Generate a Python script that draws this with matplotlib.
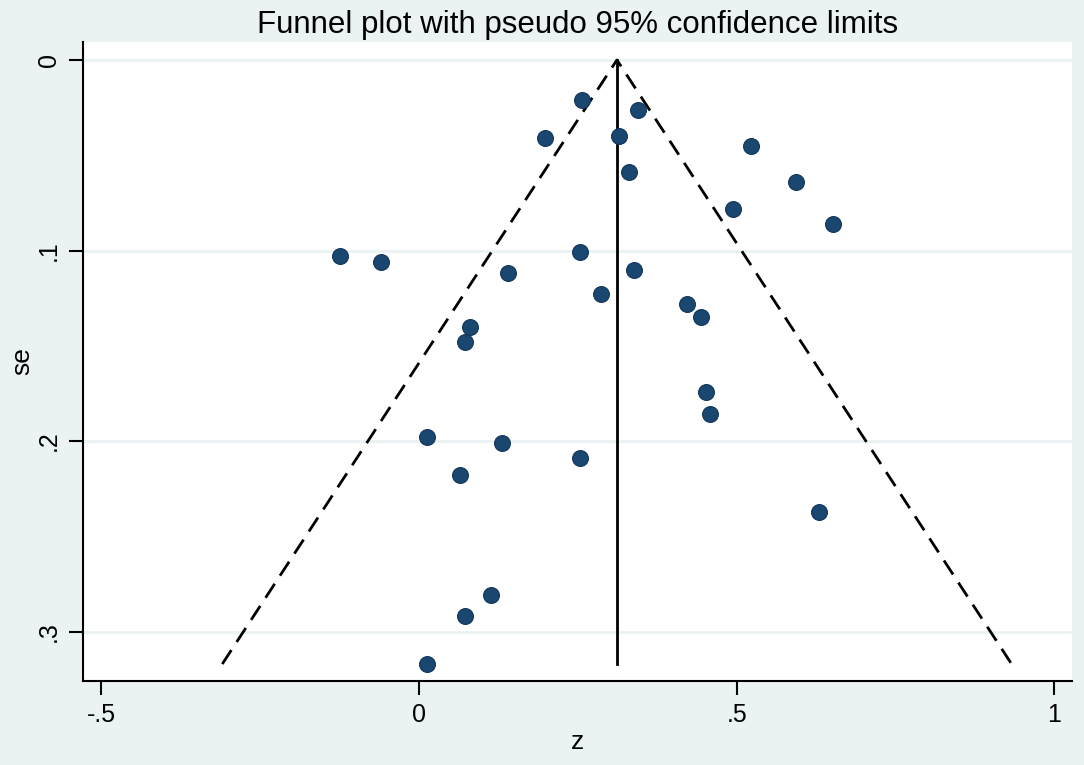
import numpy as np
import matplotlib
matplotlib.use('Agg')
from matplotlib import pyplot as plt

# effect sizes (z) and standard errors
z = [0.256, 0.345, 0.199, 0.315, 0.523, 0.330, 0.593, 0.494, 0.652,
     -0.125, -0.060, 0.253, 0.140, 0.339, 0.287, 0.422, 0.444, 0.080, 0.073,
     0.452, 0.458,
     0.013, 0.131, 0.253, 0.064, 0.629,
     0.114, 0.073, 0.013]
se = [0.021, 0.026, 0.041, 0.040, 0.045, 0.059, 0.064, 0.078, 0.086,
      0.103, 0.106, 0.101, 0.112, 0.110, 0.123, 0.128, 0.135, 0.140, 0.148,
      0.174, 0.186,
      0.198, 0.201, 0.209, 0.218, 0.237,
      0.281, 0.292, 0.317]
pooled = 0.3115

xticks = [-0.5, 0, 0.5, 1]
xticklabels = ['-.5', '0', '.5', '1']
yticks = [0, 0.1, 0.2, 0.3]
yticklabels = ['0', '.1', '.2', '.3']

bg = '#EAF2F3'
navy = '#1A476F'

plt.rcParams['font.family'] = ['Liberation Sans', 'DejaVu Sans']

fig = plt.figure(figsize=(10.84, 7.65), dpi=100, facecolor=bg)
ax = fig.add_axes([0.0766, 0.1098, 0.9124, 0.8357])
ax.set_facecolor('white')

se_max = max(se)
ax.plot([pooled - 1.96 * se_max, pooled, pooled + 1.96 * se_max], [se_max, 0, se_max],
        color='black', lw=2, ls=(0, (6, 3.5)), zorder=2)
ax.plot([pooled, pooled], [0, se_max], color='black', lw=2, zorder=2)
ax.scatter(z, se, s=130, color=navy, edgecolors='#12355A', linewidths=0.8, zorder=3)

ax.set_xlim(-0.529, 1.028)
ax.set_ylim(0.3259, -0.0096)
ax.set_xticks(xticks)
ax.set_xticklabels(xticklabels)
ax.set_yticks(yticks)
ax.set_yticklabels(yticklabels, rotation=90, va='center')
ax.grid(axis='y', color=bg, lw=2, zorder=0)
ax.grid(axis='x', visible=False)

for side in ['top', 'right']:
    ax.spines[side].set_visible(False)
for side in ['left', 'bottom']:
    ax.spines[side].set_linewidth(1.5)
ax.tick_params(axis='both', length=10, width=1.5, labelsize=18, pad=6)

ax.set_xlabel('z', fontsize=19, labelpad=2)
ax.set_ylabel('se', fontsize=19, labelpad=2)
ax.set_title('Funnel plot with pseudo 95% confidence limits', fontsize=22.5, pad=6)

plt.savefig('out.png', dpi=100, facecolor=bg)
